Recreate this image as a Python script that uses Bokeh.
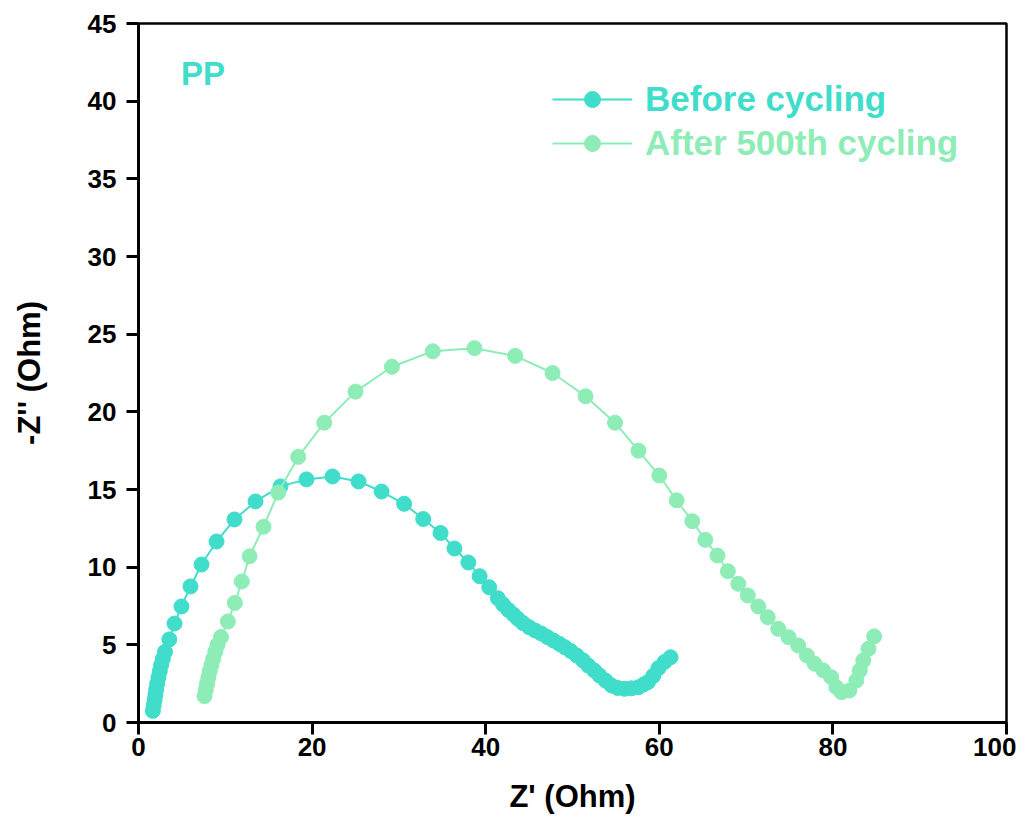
from bokeh.plotting import figure
from bokeh.models import Legend, LegendItem, Label, Range1d
from bokeh.embed import file_html
from bokeh.resources import INLINE

before_x = [1.65, 1.75, 1.85, 1.95, 2.05, 2.15, 2.3, 2.45, 2.6, 2.8, 3.05, 3.55,
            4.15, 4.95, 5.99, 7.26, 8.99, 11.06, 13.48, 16.36, 19.35, 22.35, 25.35,
            28.0, 30.6, 32.8, 34.8, 36.4, 38.0, 39.3, 40.4, 41.4, 42.0, 42.6, 43.2,
            43.7, 44.3, 45.0, 45.7, 46.4, 47.1, 47.8, 48.5, 49.1, 49.8, 50.5, 51.2,
            51.8, 52.5, 53.1, 53.8, 54.5, 55.2, 56.0, 56.8, 57.6, 58.2, 58.7, 59.3,
            59.9, 60.6, 61.3]
before_y = [0.75, 1.1, 1.45, 1.8, 2.15, 2.5, 2.9, 3.3, 3.7, 4.1, 4.55, 5.35,
            6.37, 7.47, 8.76, 10.17, 11.65, 13.07, 14.23, 15.2, 15.65, 15.84, 15.52,
            14.87, 14.08, 13.1, 12.2, 11.2, 10.3, 9.42, 8.71, 8.0, 7.6, 7.25, 6.95,
            6.68, 6.4, 6.14, 5.92, 5.73, 5.5, 5.28, 5.06, 4.85, 4.6, 4.31, 4.0,
            3.67, 3.35, 3.03, 2.7, 2.38, 2.22, 2.17, 2.2, 2.27, 2.45, 2.6, 3.0,
            3.5, 3.9, 4.2]

after_x = [7.6, 7.75, 7.9, 8.05, 8.2, 8.4, 8.6, 8.85, 9.1, 9.5, 10.3, 11.1, 11.9,
           12.8, 14.4, 16.1, 18.4, 21.4, 25.0, 29.2, 33.9, 38.7, 43.4, 47.7, 51.5,
           54.9, 57.6, 60.0, 62.0, 63.8, 65.3, 66.7, 67.9, 69.1, 70.2, 71.4, 72.5,
           73.7, 74.9, 76.0, 77.0, 77.9, 78.9, 79.8, 80.4, 81.0, 81.9, 82.7, 83.1,
           83.5, 84.1, 84.75]
after_y = [1.7, 2.1, 2.5, 2.9, 3.3, 3.7, 4.1, 4.55, 5.0, 5.5, 6.5, 7.7, 9.08,
           10.7, 12.6, 14.8, 17.1, 19.3, 21.3, 22.9, 23.9, 24.1, 23.6, 22.5, 21.0,
           19.3, 17.5, 15.9, 14.3, 12.96, 11.76, 10.75, 9.74, 8.93, 8.18, 7.47, 6.78,
           6.03, 5.49, 4.96, 4.31, 3.78, 3.35, 2.92, 2.27, 1.95, 2.06, 2.7, 3.35,
           3.99, 4.75, 5.54]

series_names = ["Before cycling", "After 500th cycling"]
x_ticks = [0, 20, 40, 60, 80, 100]
y_ticks = [0, 5, 10, 15, 20, 25, 30, 35, 40, 45]

C_BEFORE = "#40DDCB"
C_AFTER = "#8EEDB7"
FONT = "Liberation Sans"

p = figure(frame_width=868, frame_height=699, output_backend="svg",
           toolbar_location=None, x_range=Range1d(0, 100), y_range=Range1d(0, 45),
           min_border_left=138, min_border_top=23, min_border_right=10,
           min_border_bottom=100)
p.grid.visible = False
p.outline_line_color = "black"
p.outline_line_width = 2.5
p.background_fill_color = "white"
p.border_fill_color = "white"

r1l = p.line(before_x, before_y, line_color=C_BEFORE, line_width=2)
r1s = p.scatter(before_x, before_y, size=15, fill_color=C_BEFORE, line_color=C_BEFORE)
r2l = p.line(after_x, after_y, line_color=C_AFTER, line_width=2)
r2s = p.scatter(after_x, after_y, size=15, fill_color=C_AFTER, line_color=C_AFTER)

for ax in (p.xaxis[0], p.yaxis[0]):
    ax.axis_line_width = 3
    ax.major_tick_line_width = 3
    ax.minor_tick_line_width = 2.5
    ax.major_tick_in = 0
    ax.minor_tick_in = 0
    ax.major_tick_out = 12
    ax.minor_tick_out = 7
    ax.major_label_text_font = FONT
    ax.major_label_text_font_style = "bold"
    ax.major_label_text_font_size = "26px"
    ax.major_label_text_color = "black"
    ax.axis_label_text_font = FONT
    ax.axis_label_text_font_style = "bold"
    ax.axis_label_text_font_size = "31px"
    ax.axis_label_text_color = "black"

p.xaxis.ticker = x_ticks
p.xaxis.ticker.num_minor_ticks = 2
p.yaxis.ticker = y_ticks
p.yaxis.ticker.num_minor_ticks = 2
p.xaxis.axis_label = "Z' (Ohm)"
p.yaxis.axis_label = "-Z'' (Ohm)"
p.xaxis.major_label_standoff = 3
p.yaxis.major_label_standoff = 10
p.xaxis.axis_label_standoff = 20
p.yaxis.axis_label_standoff = 38

legend = Legend(items=[LegendItem(label=series_names[0], renderers=[r1l, r1s])],
                location=(414, 603), glyph_width=80, glyph_height=40,
                label_standoff=13, spacing=4, padding=0, margin=0,
                border_line_alpha=0, background_fill_alpha=0,
                label_text_font=FONT, label_text_font_style="bold",
                label_text_font_size="35px", label_text_color=C_BEFORE)
p.add_layout(legend, "center")

legend2 = Legend(items=[LegendItem(label=series_names[1], renderers=[r2l, r2s])],
                 location=(414, 559), glyph_width=80, glyph_height=40,
                 label_standoff=13, spacing=4, padding=0, margin=0,
                 border_line_alpha=0, background_fill_alpha=0,
                 label_text_font=FONT, label_text_font_style="bold",
                 label_text_font_size="35px", label_text_color=C_AFTER)
p.add_layout(legend2, "center")

p.add_layout(Label(x=4.9, y=41.8, text="PP", text_font=FONT, text_font_style="bold",
                   text_font_size="33px", text_color=C_BEFORE, text_baseline="middle"))

open("out.html", "w").write(file_html(p, INLINE))
